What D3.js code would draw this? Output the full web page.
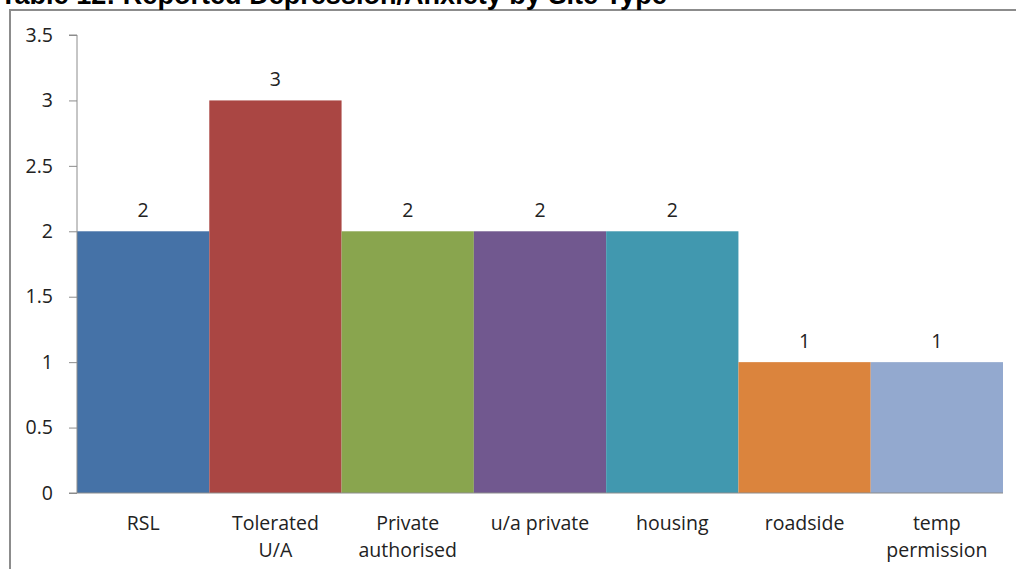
<!DOCTYPE html>
<html>
<head>
<meta charset="utf-8">
<script src="https://cdn.jsdelivr.net/npm/d3@7"></script>
<style>
  body { margin: 0; background: #fff; }
  svg { display: block; }
  .tick text, .val { font-family: "Open Sans", Lato, sans-serif; font-size: 19.5px; fill: #222; }
</style>
</head>
<body>
<div id="chart"></div>
<script>
const categories = [['RSL'], ['Tolerated', 'U/A'], ['Private', 'authorised'], ['u/a private'], ['housing'], ['roadside'], ['temp', 'permission']];
const values = [2, 3, 2, 2, 2, 1, 1];
const colors = ['#4572A7', '#AA4643', '#89A54E', '#71588F', '#4198AF', '#DB843D', '#93A9CF'];
const yTicks = [0, 0.5, 1, 1.5, 2, 2.5, 3, 3.5];
const title = 'Table 12: Reported Depression/Anxiety by Site Type';

const W = 1016, H = 569;
const m = { left: 77, right: 1003, top: 35, bottom: 493 };

const svg = d3.select('#chart').append('svg').attr('width', W).attr('height', H);

// frame
svg.append('path')
  .attr('d', `M10,${H} L10,10 L${W},10`)
  .attr('fill', 'none')
  .attr('stroke', '#8c8c8c')
  .attr('stroke-width', 2);

// title sits mostly above the page edge, only its lower part shows
const titleText = svg.append('text')
  .attr('x', 0)
  .attr('y', 4)
  .attr('font-family', '"Liberation Sans", Arial, sans-serif')
  .attr('font-weight', 'bold')
  .attr('font-size', 20)
  .attr('fill', '#000')
  .text(title);
const tw = titleText.node().getComputedTextLength();
titleText.attr('font-size', 20 * 667 / tw);

const keys = categories.map(d => d.join(' '));

const x = d3.scaleBand().domain(keys).range([m.left, m.right]).padding(0);
const y = d3.scaleLinear().domain([0, 3.5]).range([m.bottom, m.top]);

const g = svg.append('g');

g.selectAll('rect.bar')
  .data(values)
  .join('rect')
  .attr('class', 'bar')
  .attr('x', (d, i) => x(keys[i]))
  .attr('y', d => y(d))
  .attr('width', x.bandwidth())
  .attr('height', d => y(0) - y(d))
  .attr('fill', (d, i) => colors[i]);

g.selectAll('text.val')
  .data(values)
  .join('text')
  .attr('class', 'val')
  .attr('x', (d, i) => x(keys[i]) + x.bandwidth() / 2)
  .attr('y', d => y(d) - 14)
  .attr('text-anchor', 'middle')
  .text(d => d);

// y axis
const yAxis = svg.append('g')
  .attr('transform', `translate(${m.left},0)`)
  .call(d3.axisLeft(y).tickValues(yTicks).tickSize(8).tickPadding(16).tickFormat(d3.format('')));
yAxis.select('.domain').attr('stroke', '#8c8c8c').attr('d', `M-8,${m.top}H0V${m.bottom}`);
yAxis.selectAll('.tick line').attr('stroke', '#8c8c8c');

// x axis
const xAxis = svg.append('g')
  .attr('transform', `translate(0,${m.bottom})`)
  .call(d3.axisBottom(x).tickSize(0).tickFormat(''));
xAxis.select('.domain').attr('stroke', '#8c8c8c').attr('d', `M${m.left - 8},0H${m.right}`);
xAxis.selectAll('.tick').each(function(d, i) {
  const t = d3.select(this).append('text')
    .attr('text-anchor', 'middle')
    .attr('y', 37);
  categories[i].forEach((line, j) => {
    t.append('tspan').attr('x', 0).attr('dy', j === 0 ? 0 : 27).text(line);
  });
});
</script>
</body>
</html>
